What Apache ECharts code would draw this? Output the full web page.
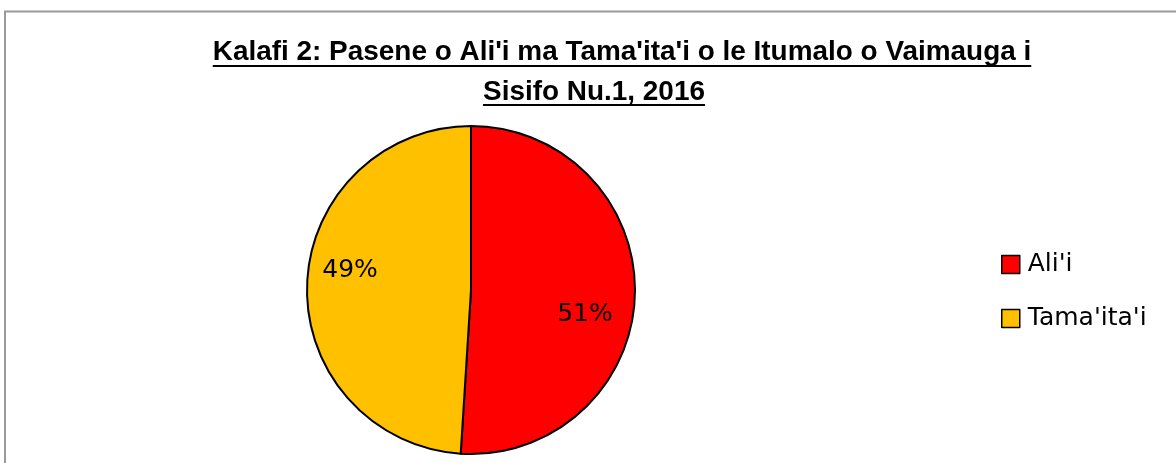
<!DOCTYPE html>
<html>
<head>
<meta charset="utf-8">
<script src="https://cdn.jsdelivr.net/npm/echarts@6/dist/echarts.min.js"></script>
<style>
  html, body { margin: 0; padding: 0; background: #fff; }
  #chart { width: 1176px; height: 463px; }
</style>
</head>
<body>
<div id="chart"></div>
<script>
// Pasene o Ali'i ma Tama'ita'i
const titleLines = ["Kalafi 2: Pasene o Ali'i ma Tama'ita'i o le Itumalo o Vaimauga i", 'Sisifo Nu.1, 2016']
const categories = ["Ali'i", "Tama'ita'i"]
const values = [51, 49]
const colors = ['#FF0000', '#FFC000']

// font size so line 1 spans the same width as the reference
const titleFont = 'Liberation Sans'
const measure = (text, size) => {
    const ctx = document.createElement('canvas').getContext('2d')
    ctx.font = `bold ${size}px "${titleFont}"`
    return ctx.measureText(text).width
}
const titleSize = 22 * 819 / measure(titleLines[0], 22)
const w1 = measure(titleLines[0], titleSize)
const w2 = measure(titleLines[1], titleSize)
const c1 = 622, c2 = 594

const chart = echarts.init(document.getElementById('chart'))

chart.setOption({
    backgroundColor: '#fff',
    animation: false,
    graphic: [
        {
            type: 'rect',
            shape: { x: 5, y: 11.5, width: 1200, height: 500 },
            style: { fill: 'none', stroke: '#9a9a9a', lineWidth: 2 },
            silent: true
        },
        {
            type: 'text', x: c1, y: 52,
            style: { text: titleLines[0], font: `bold ${titleSize}px "${titleFont}"`, fill: '#000', align: 'center', verticalAlign: 'middle' }
        },
        {
            type: 'line',
            shape: { x1: c1 - w1 / 2, y1: 66, x2: c1 + w1 / 2, y2: 66 },
            style: { stroke: '#000', lineWidth: 2 }
        },
        {
            type: 'text', x: c2, y: 92,
            style: { text: titleLines[1], font: `bold ${titleSize}px "${titleFont}"`, fill: '#000', align: 'center', verticalAlign: 'middle' }
        },
        {
            type: 'line',
            shape: { x1: c2 - w2 / 2, y1: 105, x2: c2 + w2 / 2, y2: 105 },
            style: { stroke: '#000', lineWidth: 2 }
        }
    ],
    legend: {
        orient: 'vertical',
        left: 1001,
        top: 252,
        padding: 0,
        icon: 'rect',
        itemWidth: 18,
        itemHeight: 18,
        itemGap: 29,
        textStyle: { fontFamily: 'DejaVu Sans', fontSize: 25, color: '#000', padding: [0, 0, 0, 3] },
        itemStyle: { borderColor: '#000', borderWidth: 1.5 },
        data: categories
    },
    series: [{
        type: 'pie',
        center: [471, 290],
        radius: 164,
        startAngle: 90,
        clockwise: true,
        data: categories.map((name, i) => ({
            name,
            value: values[i],
            itemStyle: { color: colors[i] }
        })),
        itemStyle: { borderColor: '#000', borderWidth: 2 },
        label: {
            show: true,
            position: 'inside',
            formatter: '{d}%',
            fontFamily: 'DejaVu Sans',
            fontSize: 25,
            color: '#000'
        },
        labelLayout: params => (params.dataIndex === 0 ? { dx: 29, dy: 22 } : { dx: -36, dy: -17 }),
        emphasis: { disabled: true }
    }]
})
</script>
</body>
</html>
